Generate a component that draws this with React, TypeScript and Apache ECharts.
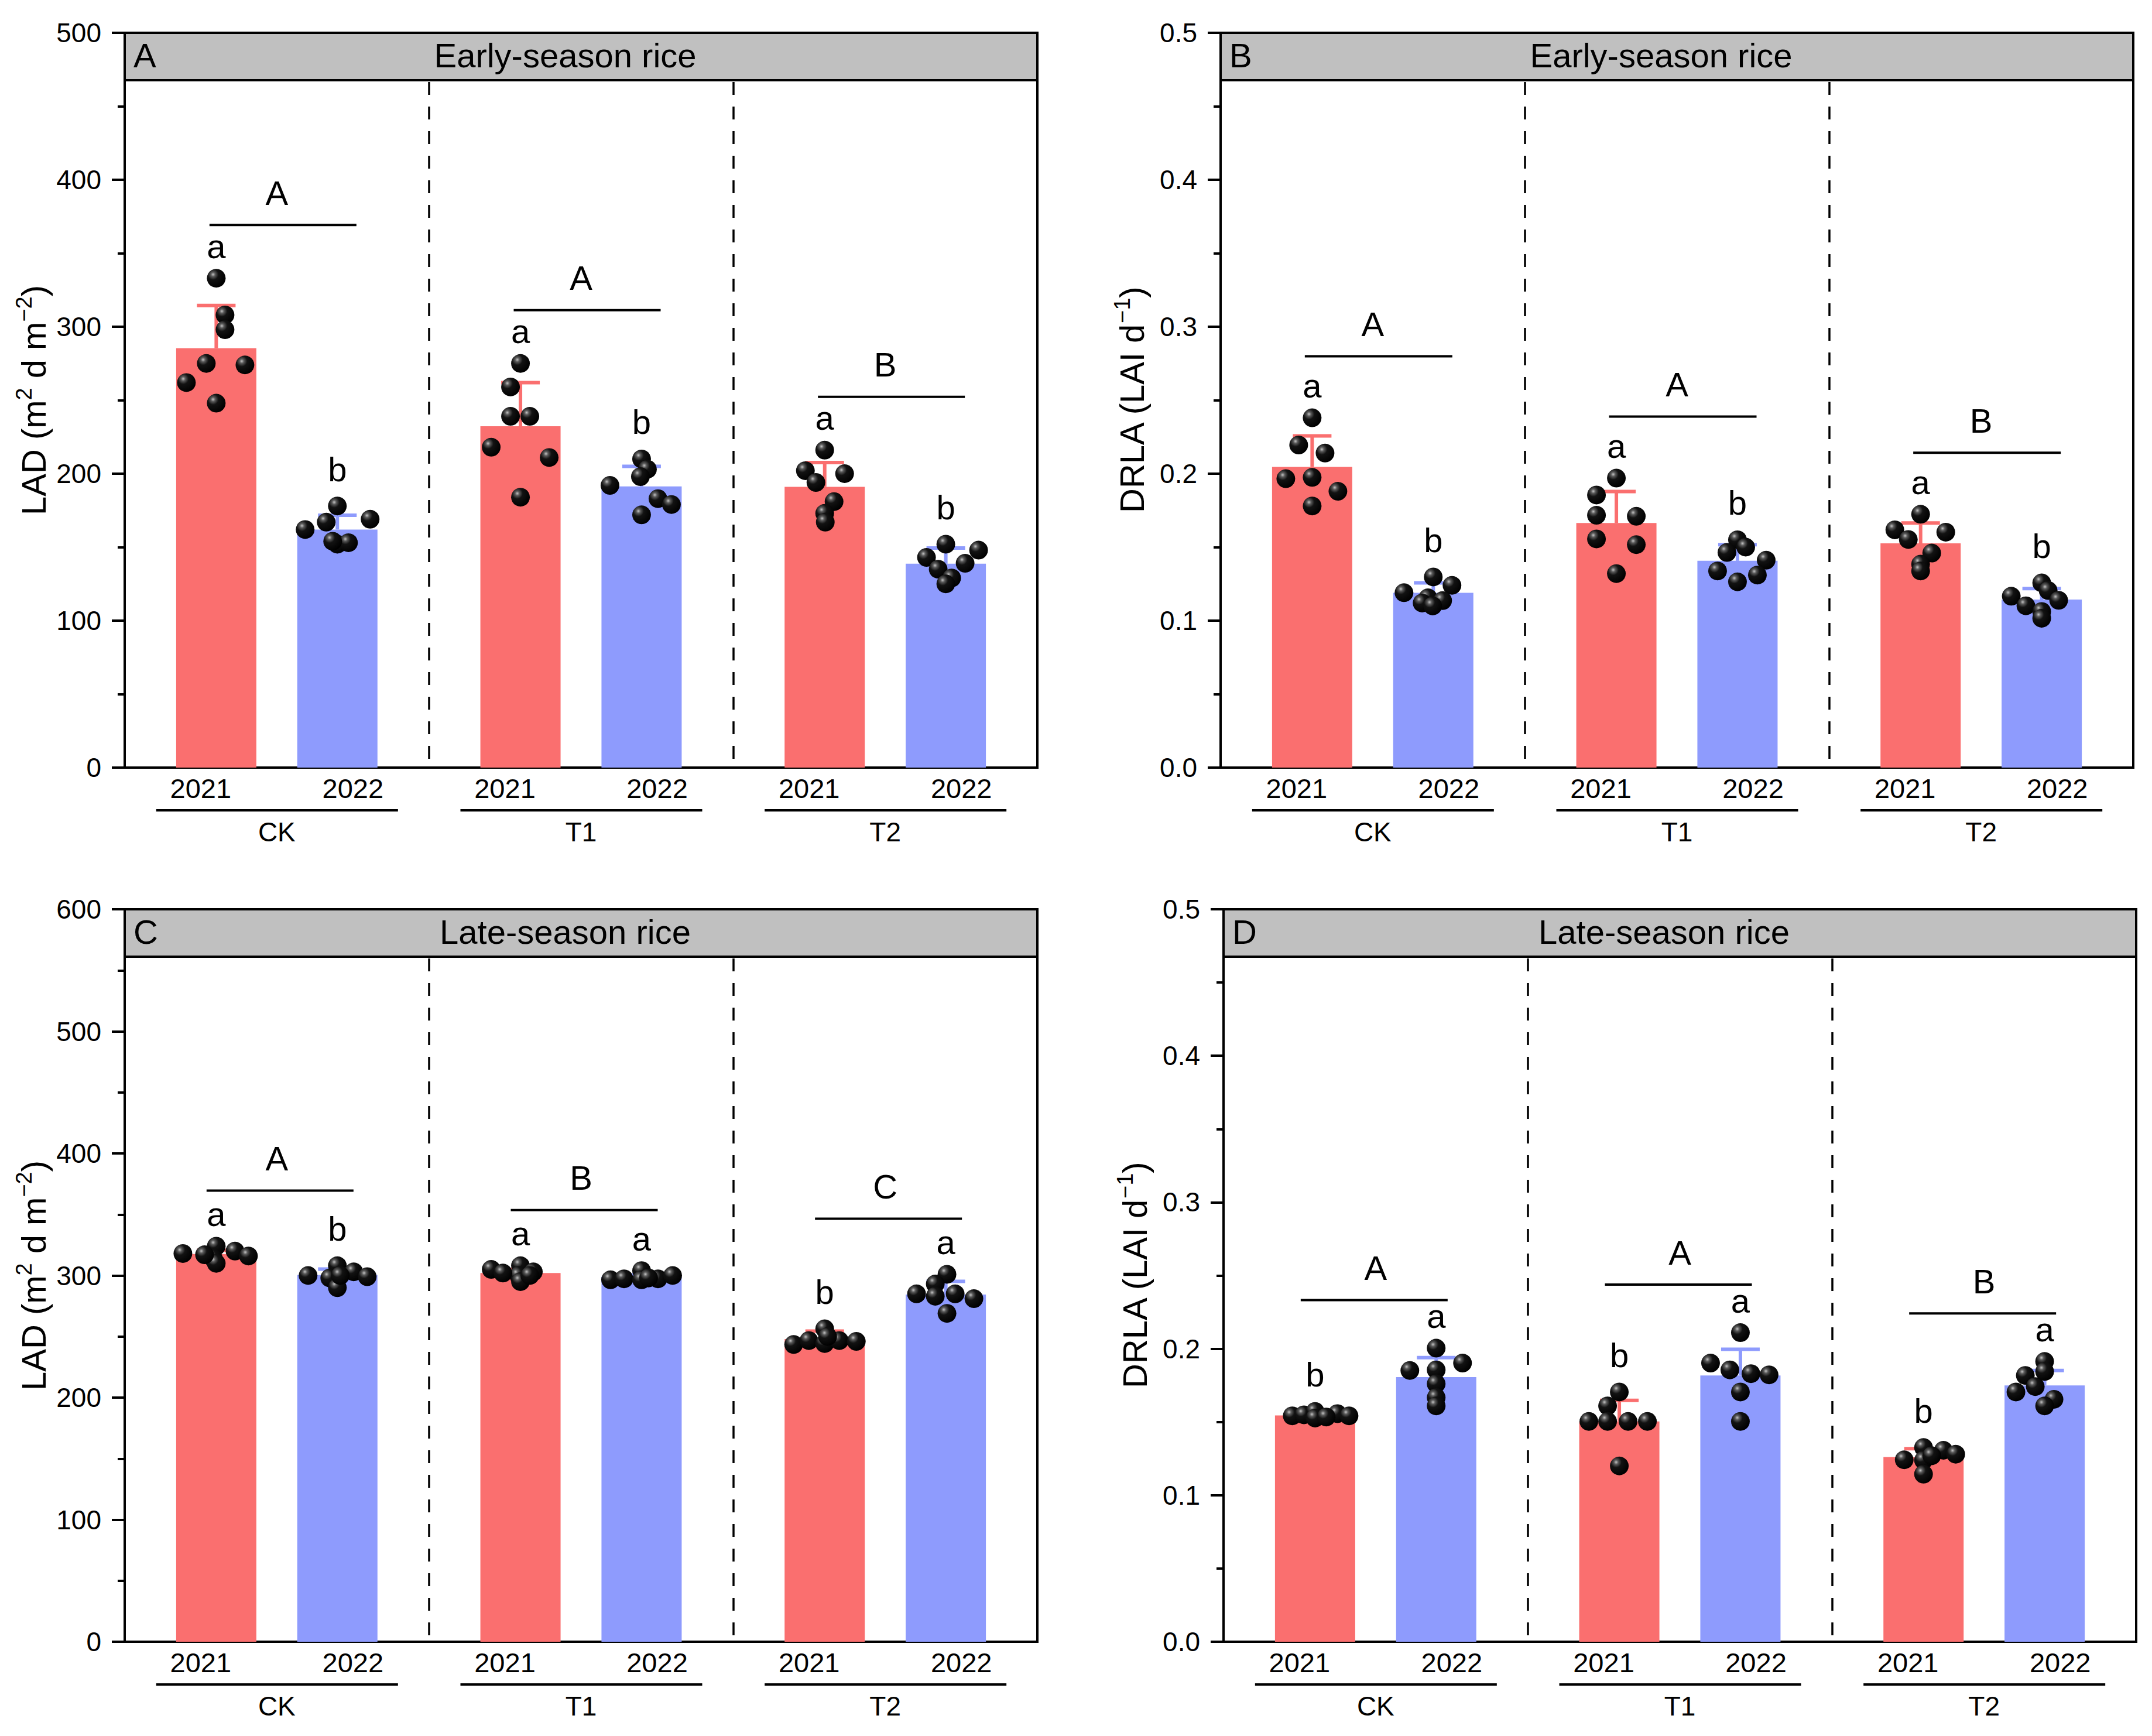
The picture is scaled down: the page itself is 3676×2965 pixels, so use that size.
import React, { useEffect, useRef } from 'react';
import * as echarts from 'echarts';

const groups = ['CK', 'T1', 'T2'];
const years = ['2021', '2022'];

// ---------- Panel A: LAD, early-season rice ----------
const aMean2021 = [285.4, 232.3, 191.0];
const aMean2022 = [162.0, 191.3, 138.7];
const aSd2021 = [29.0, 29.7, 16.6];
const aSd2022 = [9.7, 13.7, 10.7];
const aPts2021 = [
  [333, 308, 298, 275, 274, 262, 248],
  [275, 259, 239, 239, 218, 211, 184],
  [216, 202, 200, 194, 181, 173, 167],
];
const aPts2022 = [
  [178, 167, 162, 169, 152, 153, 154],
  [210, 203, 198, 192, 183, 179, 172],
  [152, 148, 143, 139, 135, 129, 125],
];
const aJit2021 = [
  [0, 15, 15, -17, 49, -51, 0],
  [0, -17, -17, 16, -50, 49, 0],
  [0, -33, 34, -15, 16, 0, 1],
];
const aJit2022 = [
  [0, -19, -55, 56, 0, 19, -8],
  [0, 10, -2, -54, 28, 51, 0],
  [0, 56, -33, 33, -13, 10, 0],
];
const aLet2021 = ['a', 'a', 'a'];
const aLet2022 = ['b', 'b', 'b'];
const aGroupLet = ['A', 'A', 'B'];

// ---------- Panel B: DRLA, early-season rice ----------
const bMean2021 = [0.2046, 0.1664, 0.1526];
const bMean2022 = [0.1189, 0.1407, 0.1143];
const bSd2021 = [0.0211, 0.0214, 0.0138];
const bSd2022 = [0.0068, 0.011, 0.0075];
const bPts2021 = [
  [0.238, 0.2195, 0.214, 0.1966, 0.1975, 0.188, 0.178],
  [0.197, 0.1855, 0.1717, 0.171, 0.1556, 0.1517, 0.132],
  [0.1724, 0.1618, 0.1602, 0.1552, 0.146, 0.1384, 0.1338],
];
const bPts2022 = [
  [0.1297, 0.124, 0.119, 0.1155, 0.1136, 0.112, 0.11],
  [0.155, 0.15, 0.1464, 0.1411, 0.1338, 0.131, 0.1264],
  [0.1257, 0.1205, 0.1166, 0.1138, 0.1101, 0.1062, 0.1016],
];
const bJit2021 = [
  [0, -23, 22, -45, 0, 44, 0],
  [0, -34, -34, 34, -34, 34, 0],
  [0, -44, 43, -21, 19, 0, 0],
];
const bJit2022 = [
  [0, 32, -50, -9, 16, -19, -1],
  [0, 14, -18, 49, -34, 34, 0],
  [0, 11, -52, 29, -27, 0, 0],
];
const bLet2021 = ['a', 'a', 'a'];
const bLet2022 = ['b', 'b', 'b'];
const bGroupLet = ['A', 'A', 'B'];

// ---------- Panel C: LAD, late-season rice ----------
const cMean2021 = [317.6, 302.0, 248.0];
const cMean2022 = [300.5, 298.9, 284.4];
const cSd2021 = [3.0, 3.0, 6.4];
const cSd2022 = [4.8, 1.5, 10.8];
const cPts2021 = [
  [318, 324, 314, 310, 320, 316, 317],
  [305, 308, 300, 303, 295, 300, 302],
  [243.5, 246.7, 256.3, 244.3, 246.7, 246, 250],
];
const cPts2022 = [
  [300, 308, 298, 290, 303, 299, 300],
  [296.5, 297.3, 304, 296.5, 297.3, 300, 298],
  [301, 293, 285, 283, 285, 281, 269],
];
const cJit2021 = [
  [-57, 0, -5, 0, 32, 55, -20],
  [-50, 0, -3, 22, 0, 16, -30],
  [-53, -27, 0, 0, 25, 54, 5],
];
const cJit2022 = [
  [-50, 0, -13, 0, 28, 51, 5],
  [-53, -30, 0, 0, 28, 53, 12],
  [2, -18, -50, -18, 16, 48, 2],
];
const cLet2021 = ['a', 'a', 'b'];
const cLet2022 = ['b', 'a', 'a'];
const cGroupLet = ['A', 'B', 'C'];

// ---------- Panel D: DRLA, late-season rice ----------
const dMean2021 = [0.1545, 0.1504, 0.1261];
const dMean2022 = [0.1807, 0.1818, 0.175];
const dSd2021 = [0.002, 0.0144, 0.0057];
const dSd2022 = [0.0132, 0.0178, 0.0102];
const dPts2021 = [
  [0.1542, 0.1549, 0.1572, 0.1527, 0.1557, 0.1542, 0.1534],
  [0.1705, 0.161, 0.1504, 0.1504, 0.1504, 0.1504, 0.12],
  [0.1242, 0.1326, 0.1239, 0.1307, 0.128, 0.127, 0.1144],
];
const dPts2022 = [
  [0.2004, 0.1852, 0.1902, 0.1856, 0.1761, 0.1667, 0.161],
  [0.211, 0.1902, 0.1856, 0.183, 0.1822, 0.1705, 0.1504],
  [0.1913, 0.1818, 0.1705, 0.1742, 0.1845, 0.1655, 0.161],
];
const dJit2021 = [
  [-39, -19, 0, 0, 38, 58, 19],
  [0, -20, -52, -20, 15, 48, 0],
  [-33, 0, 0, 34, 55, 14, 0],
];
const dJit2022 = [
  [0, -45, 45, 0, 0, 0, 0],
  [0, -51, -18, 18, 49, 0, 0],
  [0, -33, -49, -16, 0, 16, 0],
];
const dLet2021 = ['b', 'b', 'b'];
const dLet2022 = ['a', 'a', 'a'];
const dGroupLet = ['A', 'A', 'B'];

// ---------- style constants ----------
const FONT = '"Liberation Sans", Arial, Helvetica, sans-serif';
const RED = '#FA6F6F';
const BLUE = '#8E9BFD';
const BAR_W = 137;
const BAR_GAP = 0.51;
const LAD_NAME = 'LAD (m{sup|2} d m{sup|\u22122})';
const DRLA_NAME = 'DRLA (LAI d{sup|\u22121})';

const panels = [
  {
    letter: 'A', title: 'Early-season rice', yMax: 500, yInt: 100, dec: 0, name: LAD_NAME,
    mean: [aMean2021, aMean2022], sd: [aSd2021, aSd2022], pts: [aPts2021, aPts2022],
    jit: [aJit2021, aJit2022], lets: [aLet2021, aLet2022], glet: aGroupLet,
    grid: { left: 213, top: 56, width: 1559, height: 1255 }, lineOff: 91, lineX: [-115, 136],
  },
  {
    letter: 'B', title: 'Early-season rice', yMax: 0.5, yInt: 0.1, dec: 1, name: DRLA_NAME,
    mean: [bMean2021, bMean2022], sd: [bSd2021, bSd2022], pts: [bPts2021, bPts2022],
    jit: [bJit2021, bJit2022], lets: [bLet2021, bLet2022], glet: bGroupLet,
    grid: { left: 2085, top: 56, width: 1559, height: 1255 }, lineOff: 105, lineX: [-116, 136],
  },
  {
    letter: 'C', title: 'Late-season rice', yMax: 600, yInt: 100, dec: 0, name: LAD_NAME,
    mean: [cMean2021, cMean2022], sd: [cSd2021, cSd2022], pts: [cPts2021, cPts2022],
    jit: [cJit2021, cJit2022], lets: [cLet2021, cLet2022], glet: cGroupLet,
    grid: { left: 213, top: 1553, width: 1559, height: 1251 }, lineOff: 95, lineX: [-120, 131],
  },
  {
    letter: 'D', title: 'Late-season rice', yMax: 0.5, yInt: 0.1, dec: 1, name: DRLA_NAME,
    mean: [dMean2021, dMean2022], sd: [dSd2021, dSd2022], pts: [dPts2021, dPts2022],
    jit: [dJit2021, dJit2022], lets: [dLet2021, dLet2022], glet: dGroupLet,
    grid: { left: 2090, top: 1553, width: 1559, height: 1251 }, lineOff: 82, lineX: [-128, 123],
  },
];

function ballFill() {
  return new echarts.graphic.RadialGradient(0.33, 0.3, 0.72, [
    { offset: 0, color: '#c4c4c4' },
    { offset: 0.16, color: '#5a5a5a' },
    { offset: 0.4, color: '#121212' },
    { offset: 1, color: '#000000' },
  ]);
}

function buildOption() {
  const grid: any[] = [];
  const xAxis: any[] = [];
  const yAxis: any[] = [];
  const series: any[] = [];
  const graphic: any[] = [];
  const barOffset = (BAR_W * (1 + BAR_GAP)) / 2;

  panels.forEach((p, i) => {
    grid.push({
      left: p.grid.left, top: p.grid.top, width: p.grid.width, height: p.grid.height,
      show: true, borderColor: '#000', borderWidth: 4, backgroundColor: 'transparent',
    });
    xAxis.push({
      type: 'category', gridIndex: i, data: groups,
      axisLine: { show: true, lineStyle: { color: '#000', width: 4 } },
      axisTick: { show: false },
      splitLine: { show: true, interval: 0, lineStyle: { color: '#000', width: 3.5, type: [22, 20] } },
      axisLabel: {
        interval: 0, margin: 10, color: '#000', fontFamily: FONT,
        formatter: (v: string) => `{y|${years[0]}}{y|${years[1]}}\n{g|${v}}`,
        rich: {
          y: { width: 260, align: 'center', fontSize: 47, lineHeight: 50, fontFamily: FONT, color: '#000' },
          g: { align: 'center', fontSize: 46, lineHeight: 100, fontFamily: FONT, color: '#000' },
        },
      },
    });
    yAxis.push({
      type: 'value', gridIndex: i, min: 0, max: p.yMax, interval: p.yInt,
      axisLine: { show: true, lineStyle: { color: '#000', width: 4 } },
      axisTick: { show: true, length: 22, lineStyle: { color: '#000', width: 4 } },
      minorTick: { show: true, splitNumber: 2, length: 12, lineStyle: { color: '#000', width: 4 } },
      splitLine: { show: false },
      axisLabel: {
        fontSize: 46, color: '#000', margin: 40, fontFamily: FONT,
        formatter: (v: number) => v.toFixed(p.dec),
      },
      name: p.name, nameLocation: 'middle', nameGap: 117,
      nameTextStyle: {
        fontSize: 58, color: '#000', fontFamily: FONT, lineHeight: 70,
        rich: { sup: { fontSize: 38, lineHeight: 40, verticalAlign: 'top', fontFamily: FONT, color: '#000' } },
      },
    });

    [0, 1].forEach((yi) => {
      series.push({
        type: 'bar', name: years[yi], xAxisIndex: i, yAxisIndex: i, silent: true,
        data: p.mean[yi], barWidth: BAR_W, barGap: `${BAR_GAP * 100}%`,
        itemStyle: { color: yi === 0 ? RED : BLUE },
      });
    });

    series.push({
      type: 'custom', xAxisIndex: i, yAxisIndex: i, clip: false, silent: true, z: 5,
      data: groups.map((_, g) => [g, p.mean[0][g]]),
      encode: { x: 0, y: 1 },
      renderItem: (params: any, api: any) => {
        const g = params.dataIndex;
        const children: any[] = [];
        const base = api.coord([g, 0]);
        // underline below year labels
        children.push({
          type: 'line',
          shape: { x1: base[0] - 206, y1: base[1] + 73, x2: base[0] + 207, y2: base[1] + 73 },
          style: { stroke: '#000', lineWidth: 4 },
        });
        const tops: number[] = [];
        [0, 1].forEach((yi) => {
          const cx = base[0] + (yi === 0 ? -barOffset : barOffset);
          const color = yi === 0 ? RED : BLUE;
          const mean = p.mean[yi][g];
          const sd = p.sd[yi][g];
          const yTop = api.coord([g, mean])[1];
          const yCap = api.coord([g, mean + sd])[1];
          children.push({
            type: 'line', shape: { x1: cx, y1: yTop, x2: cx, y2: yCap },
            style: { stroke: color, lineWidth: 6 },
          });
          children.push({
            type: 'line', shape: { x1: cx - 33, y1: yCap, x2: cx + 33, y2: yCap },
            style: { stroke: color, lineWidth: 6 },
          });
          let minY = yCap;
          p.pts[yi][g].forEach((v: number, k: number) => {
            const py = api.coord([g, v])[1];
            minY = Math.min(minY, py);
            children.push({
              type: 'circle', shape: { cx: cx + p.jit[yi][g][k], cy: py, r: 16 },
              style: { fill: ballFill() },
            });
          });
          tops.push(minY);
          const lt = p.lets[yi][g];
          children.push({
            type: 'text', x: cx, y: minY - (lt === 'b' ? 63 : 55),
            style: { text: lt, fontSize: 58, fontFamily: FONT, fill: '#000', align: 'center', verticalAlign: 'middle' },
          });
        });
        const lineY = Math.min(tops[0], tops[1]) - p.lineOff;
        children.push({
          type: 'line',
          shape: { x1: base[0] + p.lineX[0], y1: lineY, x2: base[0] + p.lineX[1], y2: lineY },
          style: { stroke: '#000', lineWidth: 4 },
        });
        children.push({
          type: 'text', x: base[0], y: lineY - 55,
          style: { text: p.glet[g], fontSize: 58, fontFamily: FONT, fill: '#000', align: 'center', verticalAlign: 'middle' },
        });
        return { type: 'group', children };
      },
    });

    // header band
    graphic.push({
      type: 'rect', z: 100,
      shape: { x: p.grid.left, y: p.grid.top, width: p.grid.width, height: 81 },
      style: { fill: '#C0C0C0', stroke: '#000', lineWidth: 4 },
    });
    graphic.push({
      type: 'text', z: 101, x: p.grid.left + 15, y: p.grid.top + 38,
      style: { text: p.letter, fontSize: 58, fontFamily: FONT, fill: '#000', align: 'left', verticalAlign: 'middle' },
    });
    graphic.push({
      type: 'text', z: 101, x: p.grid.left + p.grid.width / 2 - 27, y: p.grid.top + 38,
      style: { text: p.title, fontSize: 58, fontFamily: FONT, fill: '#000', align: 'center', verticalAlign: 'middle' },
    });
  });

  return {
    animation: false,
    backgroundColor: '#ffffff',
    textStyle: { fontFamily: FONT },
    grid, xAxis, yAxis, series, graphic,
  };
}

export default function App() {
  const ref = useRef<HTMLDivElement>(null);
  useEffect(() => {
    document.body.style.margin = '0';
    if (!ref.current) return;
    const chart = echarts.init(ref.current, undefined, { renderer: 'svg' });
    chart.setOption(buildOption() as any);
    return () => chart.dispose();
  }, []);
  return <div ref={ref} style={{ width: 3676, height: 2965, background: '#fff' }} />;
}
